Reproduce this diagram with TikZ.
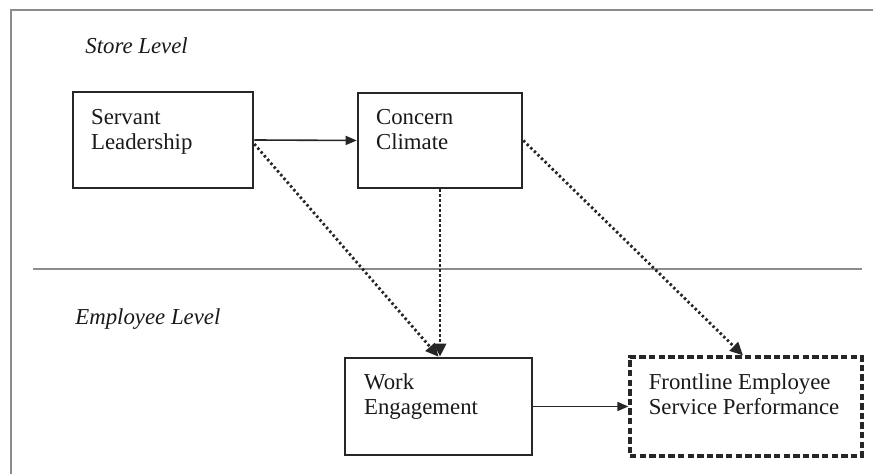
\documentclass[tikz,border=0pt]{standalone}
\usepackage{fontspec}
\setmainfont{Liberation Serif}
\usetikzlibrary{arrows.meta}
\tikzset{
  levelbox/.style={draw=black!85, line width=1.3pt, rectangle, inner sep=0pt},
  dashbox/.style={levelbox, line width=1.6pt, dash pattern=on 3.2pt off 1.6pt},
  boxtext/.style={anchor=north west, inner sep=0pt, align=left, text=black!90,
    font=\fontsize{11.4}{12.5}\selectfont},
  leveltext/.style={anchor=north west, inner sep=0pt, text=black!90,
    font=\fontsize{11.4}{12.5}\selectfont\itshape},
  solidarrow/.style={draw=black!85, line width=0.8pt, -{Triangle[length=5.5pt,width=4.5pt]}},
  dotarrow/.style={draw=black!85, line width=1.4pt, dash pattern=on 1.2pt off 1.3pt,
    -{Triangle[length=6.5pt,width=6pt]}},
  frameline/.style={draw=black!45, line width=1.2pt}
}
\begin{document}
\begin{tikzpicture}[x=0.5pt, y=-0.5pt]
        \useasboundingbox (0,0) rectangle (873,474);

        % Drawing outer frame and level divider
        \draw [frameline] (11,474) -- (11,10) -- (873,10);%
        \draw [frameline] (33,269) -- (862,269);%

        % Marking level labels
        \node [leveltext] (store) at (85,37) {Store Level};%
        \node [leveltext] (employee) at (75,308) {Employee Level};%

        % Marking box Servant Leadership
        \node [levelbox, minimum width=90pt, minimum height=48pt] (sl) at (163,140) {};%
        \node [boxtext] (sltext) at ([shift={(19,18)}]sl.north west) {Servant\\Leadership};%

        % Marking box Concern Climate
        \node [levelbox, minimum width=82pt, minimum height=47.5pt] (cc) at (440,140.5) {};%
        \node [boxtext] (cctext) at ([shift={(19,17)}]cc.north west) {Concern\\Climate};%

        % Marking box Work Engagement
        \node [levelbox, minimum width=93.5pt, minimum height=48.5pt] (we) at (438.5,406.5) {};%
        \node [boxtext] (wetext) at ([shift={(20,17)}]we.north west) {Work\\Engagement};%

        % Marking box Frontline Employee Service Performance
        \node [dashbox, minimum width=116pt, minimum height=49.5pt] (fesp) at (746,406.5) {};%
        \node [boxtext] (fesptext) at ([shift={(20,18)}]fesp.north west) {Frontline Employee\\Service Performance};%

        % Drawing solid paths
        \draw [solidarrow] (sl.east) -- (cc.west);%
        \draw [solidarrow] (we.east) -- (fesp.west);%

        % Drawing dotted paths
        \draw [dotarrow] ([yshift=-2pt]sl.east) -- (we.north);%
        \draw [dotarrow] (cc.south) -- (cc.south |- we.north);%
        \draw [dotarrow] (cc.east) -- ([xshift=-1.5pt]fesp.north);%
\end{tikzpicture}
\end{document}
